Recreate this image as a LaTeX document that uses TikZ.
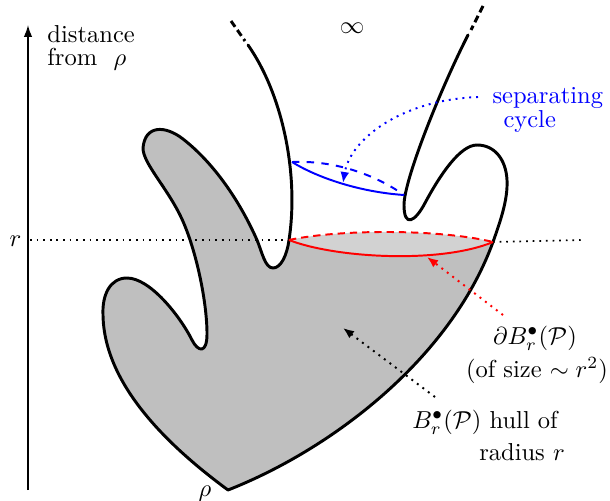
\documentclass[tikz,border=0pt]{standalone}
\usetikzlibrary{arrows.meta}
\colorlet{hullgray}{gray!50}
\colorlet{lensgray}{gray!35}
\begin{document}
\begin{tikzpicture}[x=0.408pt,y=-0.408pt,
  outline/.style={line width=1.2pt, line join=round, line cap=round},
  cyc/.style={line width=0.8pt},
  dotarrow/.style={line width=0.8pt, dotted, -{Latex[length=4.5pt,width=3.6pt]}},
  lbl/.style={inner sep=0pt, anchor=base},
  lblw/.style={inner sep=0pt, anchor=base west}]
\useasboundingbox (0,0) rectangle (610,500);

% named points
\coordinate (T) at (248,45);
\coordinate (A) at (289,240);
\coordinate (C) at (493,242);
\coordinate (rho) at (228,490);
\coordinate (U) at (468,35);
\coordinate (D) at (292,162);
\coordinate (E) at (404,195);

% hull fill
\fill[hullgray] (A)
  .. controls (287,255) and (281,268) .. (273,268)
  .. controls (265,268) and (262,252) .. (257,240)
  .. controls (237,195) and (210,160) .. (183,139)
  .. controls (165,125) and (145,125) .. (143,148)
  .. controls (143,163) and (165,185) .. (180,215)
  .. controls (195,245) and (207,300) .. (207,334)
  .. controls (207,354) and (198,352) .. (192,340)
  .. controls (180,316) and (150,278) .. (127,278)
  .. controls (110,278) and (102,295) .. (103,315)
  .. controls (104,380) and (160,440) .. (rho)
  .. controls (330,450) and (450,360) .. (C)
  .. controls (440,264) and (335,258) .. (A) -- cycle;
% lens
\fill[lensgray] (A) .. controls (340,229) and (440,229) .. (C)
  .. controls (440,264) and (335,258) .. (A) -- cycle;

% axis and r level
\draw[line width=0.6pt, -{Latex[length=4.8pt,width=3.4pt]}] (28,490) coordinate (ax0) -- (28,25) coordinate (ax1);
\draw[line width=0.7pt, dotted] (30,240) -- (A);
\draw[line width=0.7pt, dotted] (C) -- (582,240);

% black outline
\draw[outline] (T)
  .. controls (283,95) and (299,175) .. (A)
  .. controls (287,255) and (281,268) .. (273,268)
  .. controls (265,268) and (262,252) .. (257,240)
  .. controls (237,195) and (210,160) .. (183,139)
  .. controls (165,125) and (145,125) .. (143,148)
  .. controls (143,163) and (165,185) .. (180,215)
  .. controls (195,245) and (207,300) .. (207,334)
  .. controls (207,354) and (198,352) .. (192,340)
  .. controls (180,316) and (150,278) .. (127,278)
  .. controls (110,278) and (102,295) .. (103,315)
  .. controls (104,380) and (160,440) .. (rho)
  .. controls (330,450) and (450,360) .. (C)
  .. controls (500,222) and (508,200) .. (507,180)
  .. controls (506,160) and (495,145) .. (477,145)
  .. controls (460,145) and (440,175) .. (425,203)
  .. controls (415,222) and (404,228) .. (404,205)
  .. controls (404,180) and (440,90) .. (U);
\draw[outline, line cap=butt, dash pattern=on 2.9pt off 1.6pt] (231,21) -- (245,41);
\draw[outline, line cap=butt, dash pattern=on 2.9pt off 1.6pt] (483,6) -- (471,30);

% red boundary
\draw[cyc, red] (A) .. controls (335,258) and (440,264) .. (C);
\draw[cyc, red, dash pattern=on 3pt off 2pt] (A) .. controls (340,229) and (440,229) .. (C);

% blue separating cycle
\draw[cyc, blue] (D) .. controls (318,178) and (360,192) .. (E);
\draw[cyc, blue, dashed] (D) .. controls (340,160) and (380,178) .. (E);

% labels
\node[lblw] (dist1) at (47,42) {distance};
\node[lblw] (dist2) at (47,65) {from\ \ $\rho$};
\node[inner sep=0pt] (inf) at (352,28) {$\infty$};
\node[lblw, text=blue] (sep1) at (492,103) {separating};
\node[lblw, text=blue] (sep2) at (503,127) {cycle};
\node[lbl] (rlab) at (15.5,246) {$r$};
\node[lbl] (rholab) at (205,496) {$\rho$};
\node[lbl] (dB) at (535,344) {$\partial B_r^\bullet(\mathcal{P})$};
\node[lbl] (dBsize) at (537,377) {(of size $\sim r^2$)};
\node[lbl] (hull1) at (485,428) {$B_r^\bullet(\mathcal{P})$ hull of};
\node[lbl] (hull2) at (522,460) {radius $r$};

% pointer arrows
\coordinate (sepstart) at (478,97);
\coordinate (septip) at (343,183);
\coordinate (redstart) at (503,315);
\coordinate (redtip) at (427,257);
\coordinate (blkstart) at (435,397);
\coordinate (blktip) at (343,328);
\draw[dotarrow, blue] (sepstart) .. controls (400,100) and (350,140) .. (septip);
\draw[dotarrow, red] (redstart) -- (redtip);
\draw[dotarrow, black] (blkstart) -- (blktip);
\end{tikzpicture}
\end{document}
